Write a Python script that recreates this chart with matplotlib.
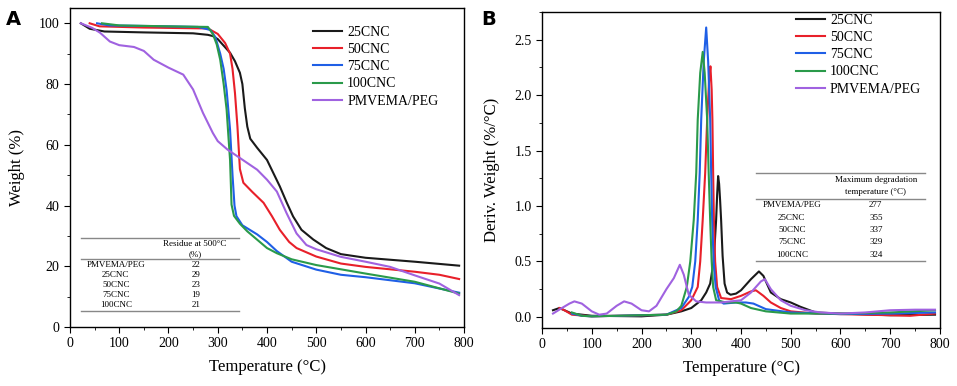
import matplotlib.pyplot as plt
from matplotlib.ticker import MultipleLocator

plt.rcParams["font.family"] = ["Liberation Serif", "DejaVu Serif"]

names = ["25CNC", "50CNC", "75CNC", "100CNC", "PMVEMA/PEG"]
colors = ["#1a1a1a", "#e8202a", "#1f5fe6", "#2a9a4a", "#a062e0"]

# TGA curves (temperature, weight %)
tga_t = [
    [22, 40, 70, 150, 250, 280, 290, 300, 325, 335, 345, 350, 355, 360, 366, 380, 400, 426, 440,
     453, 470, 494, 520, 550, 600, 700, 790],
    [40, 60, 150, 280, 300, 315, 325, 330, 335, 340, 345, 352, 370, 393, 410, 426, 445, 460,
     500, 550, 600, 700, 750, 790],
    [55, 80, 200, 260, 285, 295, 305, 312, 318, 325, 330, 334, 338, 350, 380, 400, 420, 450, 500,
     550, 600, 700, 790],
    [65, 100, 200, 280, 290, 298, 305, 312, 318, 322, 325, 328, 333, 345, 360, 400, 420, 450,
     500, 550, 600, 700, 790],
    [22, 45, 61, 81, 100, 130, 150, 170, 200, 230, 250, 270, 290, 300, 320, 340, 360, 380, 400,
     420, 440, 460, 480, 500, 550, 600, 650, 700, 750, 790],
]
tga_w = [
    [100, 98.2, 97.3, 97.0, 96.7, 96.2, 95.8, 94.8, 90.3, 87.5, 83.7, 80.0, 72.0, 66.0, 62.0,
     59.0, 55.0, 46.3, 41.0, 36.4, 32.0, 28.8, 26.0, 24.0, 22.8, 21.5, 20.2],
    [100, 99.0, 98.6, 98.3, 96.5, 93.5, 90.0, 85.0, 77.0, 66.0, 52.0, 47.5, 44.5, 40.9, 36.5,
     32.0, 28.0, 26.0, 23.2, 20.9, 19.8, 18.2, 17.2, 15.8],
    [100, 99.3, 99.0, 98.8, 97.8, 95.5, 90.0, 85.0, 78.0, 65.0, 50.0, 40.0, 36.5, 33.5, 30.5,
     28.0, 25.0, 21.5, 18.9, 17.2, 16.4, 14.4, 11.3],
    [100, 99.3, 99.0, 98.8, 96.5, 93.0, 88.0, 80.0, 71.6, 62.0, 55.0, 40.3, 36.6, 34.0, 31.5,
     26.0, 24.3, 22.3, 20.4, 19.0, 17.6, 14.9, 11.0],
    [100, 98.5, 96.9, 94.0, 92.8, 92.2, 90.9, 88.0, 85.4, 83.1, 78.2, 70.5, 63.9, 61.2, 58.4,
     56.2, 54.0, 51.8, 48.5, 44.6, 37.4, 30.8, 27.0, 25.6, 23.1, 21.5, 19.8, 17.0, 14.3, 10.5],
]

# DTG curves (temperature, deriv. weight %/°C)
dtg_t = [
    [22, 35, 60, 100, 200, 250, 280, 300, 320, 330, 338, 345, 350, 352, 354, 356, 358, 360, 363,
     367, 372, 379, 390, 400, 420, 436, 445, 460, 480, 500, 520, 550, 600, 700, 790],
    [35, 45, 60, 100, 250, 280, 300, 313, 318, 323, 328, 332, 336, 338.5, 341, 342.5, 344,
     345.5, 348, 352, 360, 380, 400, 420, 430, 445, 460, 480, 500, 550, 600, 700, 740, 790],
    [60, 80, 100, 250, 280, 295, 302, 308, 313, 317, 320, 325, 330, 334, 338, 340, 342, 345, 349,
     356, 365, 390, 410, 425, 450, 500, 600, 700, 790],
    [60, 80, 100, 250, 270, 280, 291, 298, 305, 310, 313, 318, 323, 327, 332, 335, 338, 341, 344,
     350, 370, 390, 400, 420, 450, 500, 600, 700, 790],
    [22, 40, 55, 65, 80, 100, 115, 130, 150, 165, 180, 200, 215, 230, 250, 265, 277, 285, 295,
     310, 330, 360, 400, 420, 440, 448, 460, 480, 500, 530, 560, 600, 650, 700, 750, 790],
]
dtg_d = [
    [0.06, 0.08, 0.03, 0.01, 0.005, 0.02, 0.05, 0.08, 0.15, 0.22, 0.30, 0.50, 0.875, 1.10, 1.27,
     1.20, 1.05, 0.875, 0.55, 0.30, 0.22, 0.20, 0.21, 0.24, 0.34, 0.41, 0.37, 0.22, 0.16, 0.13,
     0.09, 0.04, 0.03, 0.015, 0.02],
    [0.08, 0.06, 0.02, 0.005, 0.02, 0.06, 0.15, 0.27, 0.50, 0.875, 1.30, 1.78, 2.15, 2.26, 2.05,
     1.78, 1.30, 0.875, 0.50, 0.27, 0.17, 0.16, 0.19, 0.23, 0.24, 0.19, 0.13, 0.08, 0.05, 0.03,
     0.025, 0.015, 0.01, 0.03],
    [0.03, 0.01, 0.005, 0.02, 0.08, 0.18, 0.27, 0.50, 0.875, 1.30, 1.78, 2.30, 2.61, 2.30, 1.78,
     1.30, 0.875, 0.50, 0.27, 0.15, 0.12, 0.13, 0.13, 0.12, 0.07, 0.04, 0.025, 0.03, 0.04],
    [0.04, 0.01, 0.005, 0.02, 0.05, 0.10, 0.27, 0.50, 0.875, 1.30, 1.78, 2.20, 2.39, 2.20, 1.78,
     1.30, 0.875, 0.50, 0.27, 0.15, 0.13, 0.13, 0.12, 0.08, 0.05, 0.03, 0.03, 0.04, 0.06],
    [0.03, 0.08, 0.12, 0.14, 0.12, 0.05, 0.02, 0.03, 0.10, 0.14, 0.12, 0.06, 0.05, 0.10, 0.25,
     0.35, 0.47, 0.38, 0.20, 0.14, 0.13, 0.13, 0.15, 0.22, 0.32, 0.34, 0.25, 0.15, 0.10, 0.06,
     0.04, 0.03, 0.04, 0.06, 0.065, 0.065],
]

# inset tables
table_names = ["PMVEMA/PEG", "25CNC", "50CNC", "75CNC", "100CNC"]
residue = ["22", "29", "23", "19", "21"]
max_deg = ["277", "355", "337", "329", "324"]

fig = plt.figure(figsize=(9.57, 3.86), dpi=100)
axA = fig.add_axes([0.0731, 0.1528, 0.4118, 0.8262])
axB = fig.add_axes([0.5664, 0.1503, 0.4158, 0.8187])

for i in range(5):
    axA.plot(tga_t[i], tga_w[i], color=colors[i], lw=1.5, label=names[i])
    axB.plot(dtg_t[i], dtg_d[i], color=colors[i], lw=1.5, label=names[i])

axA.set_xlim(0, 800)
axA.set_ylim(0, 105)
axA.xaxis.set_major_locator(MultipleLocator(100))
axA.xaxis.set_minor_locator(MultipleLocator(50))
axA.yaxis.set_major_locator(MultipleLocator(20))
axA.yaxis.set_minor_locator(MultipleLocator(10))
axA.set_xlabel("Temperature (°C)", fontsize=12, labelpad=6)
axA.set_ylabel("Weight (%)", fontsize=12, labelpad=10)

axB.set_xlim(0, 800)
axB.set_ylim(-0.1, 2.75)
axB.xaxis.set_major_locator(MultipleLocator(100))
axB.xaxis.set_minor_locator(MultipleLocator(50))
axB.yaxis.set_major_locator(MultipleLocator(0.5))
axB.yaxis.set_minor_locator(MultipleLocator(0.25))
axB.set_xlabel("Temperature (°C)", fontsize=12, labelpad=6)
axB.set_ylabel("Deriv. Weight (%/°C)", fontsize=12, labelpad=10)

for ax in (axA, axB):
    ax.tick_params(which="both", direction="out", labelsize=10, top=False, right=False)
    ax.tick_params(which="major", length=4)
    ax.tick_params(which="minor", length=2)
    for s in ax.spines.values():
        s.set_linewidth(1.0)

legend_kw = dict(loc="upper left", frameon=False, fontsize=10, handlelength=2.1,
                 handletextpad=0.35, labelspacing=0.3, borderpad=0, borderaxespad=0)
axA.legend(bbox_to_anchor=(0.617, 0.944), **legend_kw)
axB.legend(bbox_to_anchor=(0.638, 0.994), **legend_kw)

# table A
gray = "#888888"
for y in (29.4, 22.4, 5.3):
    axA.plot([22, 343], [y, y], color=gray, lw=1.0)
axA.text(254, 27.4, "Residue at 500°C", fontsize=6.5, ha="center", va="center")
axA.text(254, 23.9, "(%)", fontsize=6.5, ha="center", va="center")
for j, yy in enumerate([20.5, 17.2, 13.9, 10.6, 7.1]):
    axA.text(93, yy, table_names[j], fontsize=6.5, ha="center", va="center")
    axA.text(256, yy, residue[j], fontsize=6.5, ha="center", va="center")

# table B
for y in (1.30, 1.065, 0.505):
    axB.plot([431, 770], [y, y], color=gray, lw=1.0)
axB.text(671, 1.236, "Maximum degradation", fontsize=6.5, ha="center", va="center")
axB.text(671, 1.128, "temperature (°C)", fontsize=6.5, ha="center", va="center")
for j, yy in enumerate([1.011, 0.893, 0.785, 0.677, 0.56]):
    axB.text(502, yy, table_names[j], fontsize=6.5, ha="center", va="center")
    axB.text(671, yy, max_deg[j], fontsize=6.5, ha="center", va="center")

fig.text(0.006, 0.975, "A", fontsize=14, fontweight="bold", family="DejaVu Sans", va="top")
fig.text(0.503, 0.975, "B", fontsize=14, fontweight="bold", family="DejaVu Sans", va="top")

fig.savefig("out.png", dpi=100)
